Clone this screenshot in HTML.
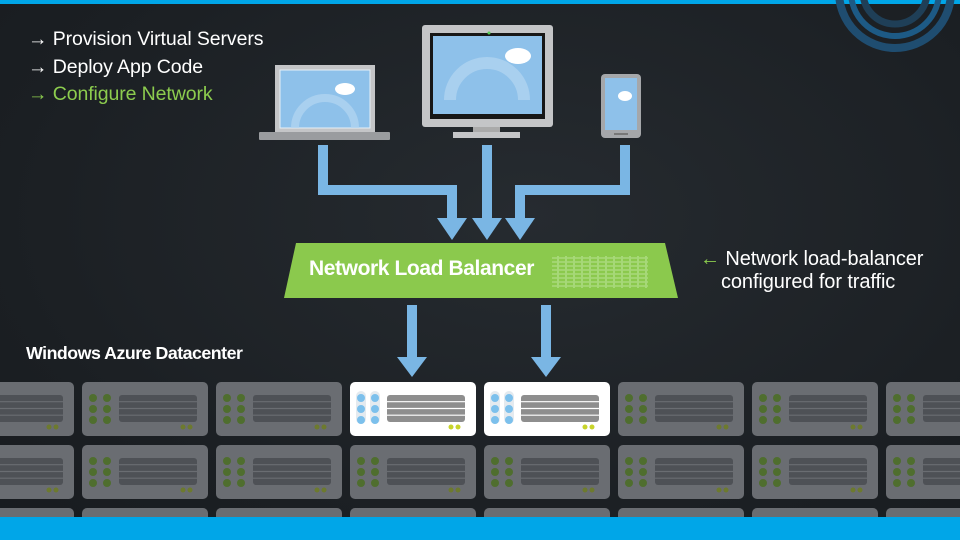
<!DOCTYPE html>
<html><head><meta charset="utf-8"><style>
html,body{margin:0;padding:0}
body{width:960px;height:540px;overflow:hidden;position:relative;background:radial-gradient(ellipse at 55% 40%,#262b30 0%,#1b1f23 70%,#181b1f 100%);font-family:"Liberation Sans",sans-serif;color:#fff}
.t{position:absolute;font-size:19.5px;white-space:nowrap;letter-spacing:-0.1px}
</style></head><body>
<div style="position:absolute;left:0;top:0;width:960px;height:4px;background:#00a6e8"></div>
<svg width="960" height="540" style="position:absolute;left:0;top:0">
<defs>
<g id="srv">
<rect x="0" y="0" width="126" height="54" rx="5" fill="#6a6d72"/>
<g fill="#4f6e2e"><circle cx="11" cy="16" r="4"/><circle cx="25" cy="16" r="4"/><circle cx="11" cy="27" r="4"/><circle cx="25" cy="27" r="4"/><circle cx="11" cy="38" r="4"/><circle cx="25" cy="38" r="4"/></g>
<rect x="37" y="13" width="78" height="27" rx="3" fill="#4e5156"/>
<g stroke="#6a6d72" stroke-width="1.2"><line x1="37" y1="19.7" x2="115" y2="19.7"/><line x1="37" y1="26.5" x2="115" y2="26.5"/><line x1="37" y1="33.2" x2="115" y2="33.2"/></g>
<circle cx="101" cy="45" r="2.5" fill="#6d7a2e"/><circle cx="108" cy="45" r="2.5" fill="#6d7a2e"/>
</g>
<g id="srvw">
<rect x="0" y="0" width="126" height="54" rx="5" fill="#fff"/>
<rect x="6" y="9" width="10" height="33" rx="5" fill="#e4eaef"/><rect x="20" y="9" width="10" height="33" rx="5" fill="#e4eaef"/>
<g fill="#7cc0ec"><circle cx="11" cy="16" r="4"/><circle cx="25" cy="16" r="4"/><circle cx="11" cy="27" r="4"/><circle cx="25" cy="27" r="4"/><circle cx="11" cy="38" r="4"/><circle cx="25" cy="38" r="4"/></g>
<rect x="37" y="13" width="78" height="27" rx="3" fill="#8e8e8e"/>
<g stroke="#fff" stroke-width="1.2"><line x1="37" y1="19.7" x2="115" y2="19.7"/><line x1="37" y1="26.5" x2="115" y2="26.5"/><line x1="37" y1="33.2" x2="115" y2="33.2"/></g>
<circle cx="101" cy="45" r="2.5" fill="#c8d42a"/><circle cx="108" cy="45" r="2.5" fill="#c8d42a"/>
</g>
</defs>
<g fill="none"><circle cx="895" cy="-8" r="56" stroke-width="8" stroke="#1f4d70"/><circle cx="895" cy="-8" r="44" stroke-width="6" stroke="#1d5a85"/><circle cx="895" cy="-8" r="32" stroke-width="7" stroke="#1f3f57"/></g>
<g>
<use href="#srv" x="-52" y="382"/><use href="#srv" x="82" y="382"/><use href="#srv" x="216" y="382"/><use href="#srvw" x="350" y="382"/><use href="#srvw" x="484" y="382"/><use href="#srv" x="618" y="382"/><use href="#srv" x="752" y="382"/><use href="#srv" x="886" y="382"/>
<use href="#srv" x="-52" y="445"/><use href="#srv" x="82" y="445"/><use href="#srv" x="216" y="445"/><use href="#srv" x="350" y="445"/><use href="#srv" x="484" y="445"/><use href="#srv" x="618" y="445"/><use href="#srv" x="752" y="445"/><use href="#srv" x="886" y="445"/>
<use href="#srv" x="-52" y="508"/><use href="#srv" x="82" y="508"/><use href="#srv" x="216" y="508"/><use href="#srv" x="350" y="508"/><use href="#srv" x="484" y="508"/><use href="#srv" x="618" y="508"/><use href="#srv" x="752" y="508"/><use href="#srv" x="886" y="508"/>
</g>
<g fill="none" stroke="#7ab6e4" stroke-width="10">
<polyline points="323,145 323,190 452,190 452,222"/>
<line x1="487" y1="145" x2="487" y2="222"/>
<polyline points="625,145 625,190 520,190 520,222"/>
<line x1="412" y1="305" x2="412" y2="360"/>
<line x1="546" y1="305" x2="546" y2="360"/>
</g>
<g fill="#7ab6e4">
<polygon points="437,218 467,218 452,240"/><polygon points="472,218 502,218 487,240"/><polygon points="505,218 535,218 520,240"/>
<polygon points="397,357 427,357 412,377"/><polygon points="531,357 561,357 546,377"/>
</g>
<polygon points="296,243 665,243 678,298 284,298" fill="#8bc94d"/>
<g stroke="#c5e8a5" stroke-width="1" opacity="0.8">
<path d="M552 258H648M552 262H648M552 266H648M552 270H648M552 274H648M552 278H648M552 282H648M552 286H648"/>
</g>
<g stroke="#a6d878" stroke-width="2">
<path d="M558 256V288M566 256V288M574 256V288M582 256V288M590 256V288M598 256V288M606 256V288M614 256V288M622 256V288M630 256V288M638 256V288M646 256V288"/>
</g>
<rect x="275" y="65" width="100" height="68" fill="#c4c5c7"/>
<rect x="280" y="70" width="90" height="58" fill="#8ec1ea" stroke="#e6eef5" stroke-width="1"/>
<path d="M295 128 A30 30 0 0 1 355 128" fill="none" stroke="#b5d6f1" stroke-width="8" opacity="0.7"/>
<ellipse cx="345" cy="89" rx="10" ry="6" fill="#fff"/>
<rect x="259" y="132" width="131" height="8" rx="1" fill="#9a9c9f"/>
<rect x="422" y="25" width="131" height="102" rx="3" fill="#c4c5c7"/>
<rect x="430" y="33" width="115" height="86" fill="#171717"/>
<rect x="433" y="36" width="109" height="78" fill="#8ec1ea"/>
<path d="M450 100 A37 37 0 0 1 524 100" fill="none" stroke="#b5d6f1" stroke-width="12" opacity="0.7"/>
<ellipse cx="518" cy="56" rx="13" ry="8" fill="#fff"/>
<circle cx="489" cy="33" r="1.5" fill="#5c5"/>
<rect x="473" y="127" width="27" height="5" fill="#aaa"/>
<rect x="453" y="132" width="67" height="6" fill="#c4c5c7"/>
<rect x="601" y="74" width="40" height="64" rx="4" fill="#a5a7aa"/>
<rect x="605" y="78" width="32" height="52" fill="#8ec1ea"/>
<ellipse cx="625" cy="96" rx="7" ry="5" fill="#fff"/>
<rect x="614" y="133" width="14" height="2" fill="#777"/>
</svg>
<div class="t" style="left:28px;top:28px">→ Provision Virtual Servers</div>
<div class="t" style="left:28px;top:56px">→ Deploy App Code</div>
<div class="t" style="left:28px;top:83px;color:#8ccc4e">→ Configure Network</div>
<div class="t" style="left:309px;top:257px;font-size:21px;font-weight:bold;letter-spacing:-0.4px">Network Load Balancer</div>
<div class="t" style="left:700px;top:248px;font-size:20px"><span style="color:#8ccc4e">←</span> Network load-balancer</div>
<div class="t" style="left:721px;top:271px;font-size:20px">configured for traffic</div>
<div class="t" style="left:26px;top:343px;font-size:17.8px;font-weight:bold;letter-spacing:-0.5px">Windows Azure Datacenter</div>
<div style="position:absolute;left:0;top:517px;width:960px;height:23px;background:#00a6e8"></div>
</body></html>
